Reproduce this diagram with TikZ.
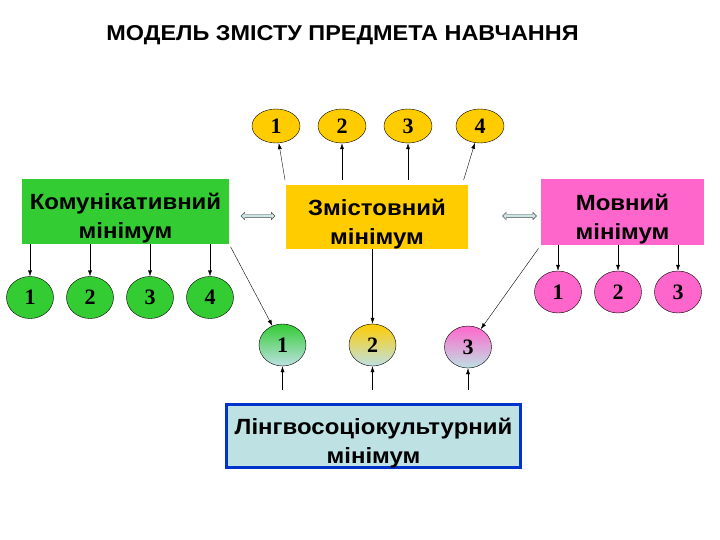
\documentclass[tikz,border=0pt]{standalone}
\usepackage{fontspec}
\setmainfont{Liberation Serif}
\setsansfont[FakeStretch=1.09]{Liberation Sans}
\usetikzlibrary{shapes.geometric,shapes.arrows,arrows.meta}

\definecolor{kgreen}{RGB}{51,204,51}
\definecolor{zyellow}{RGB}{255,204,0}
\definecolor{mpink}{RGB}{255,102,204}
\definecolor{lblue}{RGB}{190,225,228}
\definecolor{lborder}{RGB}{0,51,204}
\definecolor{dcyan}{RGB}{204,230,230}

\begin{document}
\begin{tikzpicture}[x=1pt, y=-1pt,
    box/.style={rectangle, inner sep=0pt, align=center, text height=55pt, text depth=0pt,
      font=\sffamily\bfseries\fontsize{22}{29}\selectfont},
    num/.style={ellipse, draw, inner sep=0pt, minimum width=47pt, minimum height=42pt, font=\bfseries\fontsize{22}{22}\selectfont},
    link/.style={-{Latex[length=6pt,width=4pt]}, thin},
    twin/.style={double arrow, draw=black!70, fill=dcyan, thin, inner sep=1.5pt, minimum height=34pt, double arrow head extend=2pt}]
  \useasboundingbox (0,0) rectangle (720,540);

  \node[font=\sffamily\bfseries\fontsize{21.5}{24}\selectfont] (title) at (342.5,35) {МОДЕЛЬ ЗМІСТУ ПРЕДМЕТА НАВЧАННЯ};

  \node[box, fill=kgreen, minimum width=207pt, minimum height=65pt] (kom) at (125.5,211.5) {Комунікативний\\мінімум};
  \node[box, fill=zyellow, minimum width=182pt, minimum height=64pt] (zmist) at (377,217) {Змістовний\\мінімум};
  \node[box, fill=mpink, minimum width=163pt, minimum height=66pt] (movn) at (622.5,212) {Мовний\\мінімум};
  \node[box, fill=lblue, draw=lborder, line width=3pt, minimum width=294pt, minimum height=63pt] (ling) at (373.5,436) {Лінгвосоціокультурний\\мінімум};

  \node[twin] (d1) at (258,216) {};
  \node[twin] (d2) at (519.5,216) {};

  % numbered ellipses
  \foreach \n/\x in {1/276, 2/342, 3/408, 4/480}
    \node[num, fill=zyellow, minimum width=48pt, minimum height=34pt] (z\n) at (\x,126) {\n};
  \foreach \n/\x in {1/30, 2/90, 3/150, 4/210}
    \node[num, fill=kgreen] (k\n) at (\x,297.5) {\n};
  \foreach \n/\x in {1/558, 2/618, 3/678}
    \node[num, fill=mpink] (m\n) at (\x,292) {\n};
  \node[num, top color=kgreen, bottom color=lblue] (l1) at (282.5,345) {1};
  \node[num, top color=zyellow, bottom color=lblue] (l2) at (372.5,345) {2};
  \node[num, top color=mpink, bottom color=lblue] (l3) at (468,347) {3};

  % connectors
  \draw[link, shorten <=5pt] (zmist.north west) -- (z1);
  \foreach \n in {2,3}
    \draw[link, shorten <=5pt] (zmist.north -| z\n) -- (z\n);
  \draw[link, shorten <=5pt] ([xshift=-6pt]zmist.north east) -- (z4);
  \foreach \n in {1,...,4}
    \draw[link] (kom.south -| k\n) -- (k\n);
  \foreach \n in {1,2,3}
    \draw[link] (movn.south -| m\n) -- (m\n);
  \draw[link, shorten <=3pt] (kom.south east) -- (l1);
  \draw[link] (zmist.south -| l2) -- (l2);
  \draw[link, shorten <=4pt] (movn.south west) -- (l3);
  \foreach \n in {1,2,3}
    \draw[link, shorten <=13pt] (ling.north -| l\n) -- (l\n);
\end{tikzpicture}
\end{document}
